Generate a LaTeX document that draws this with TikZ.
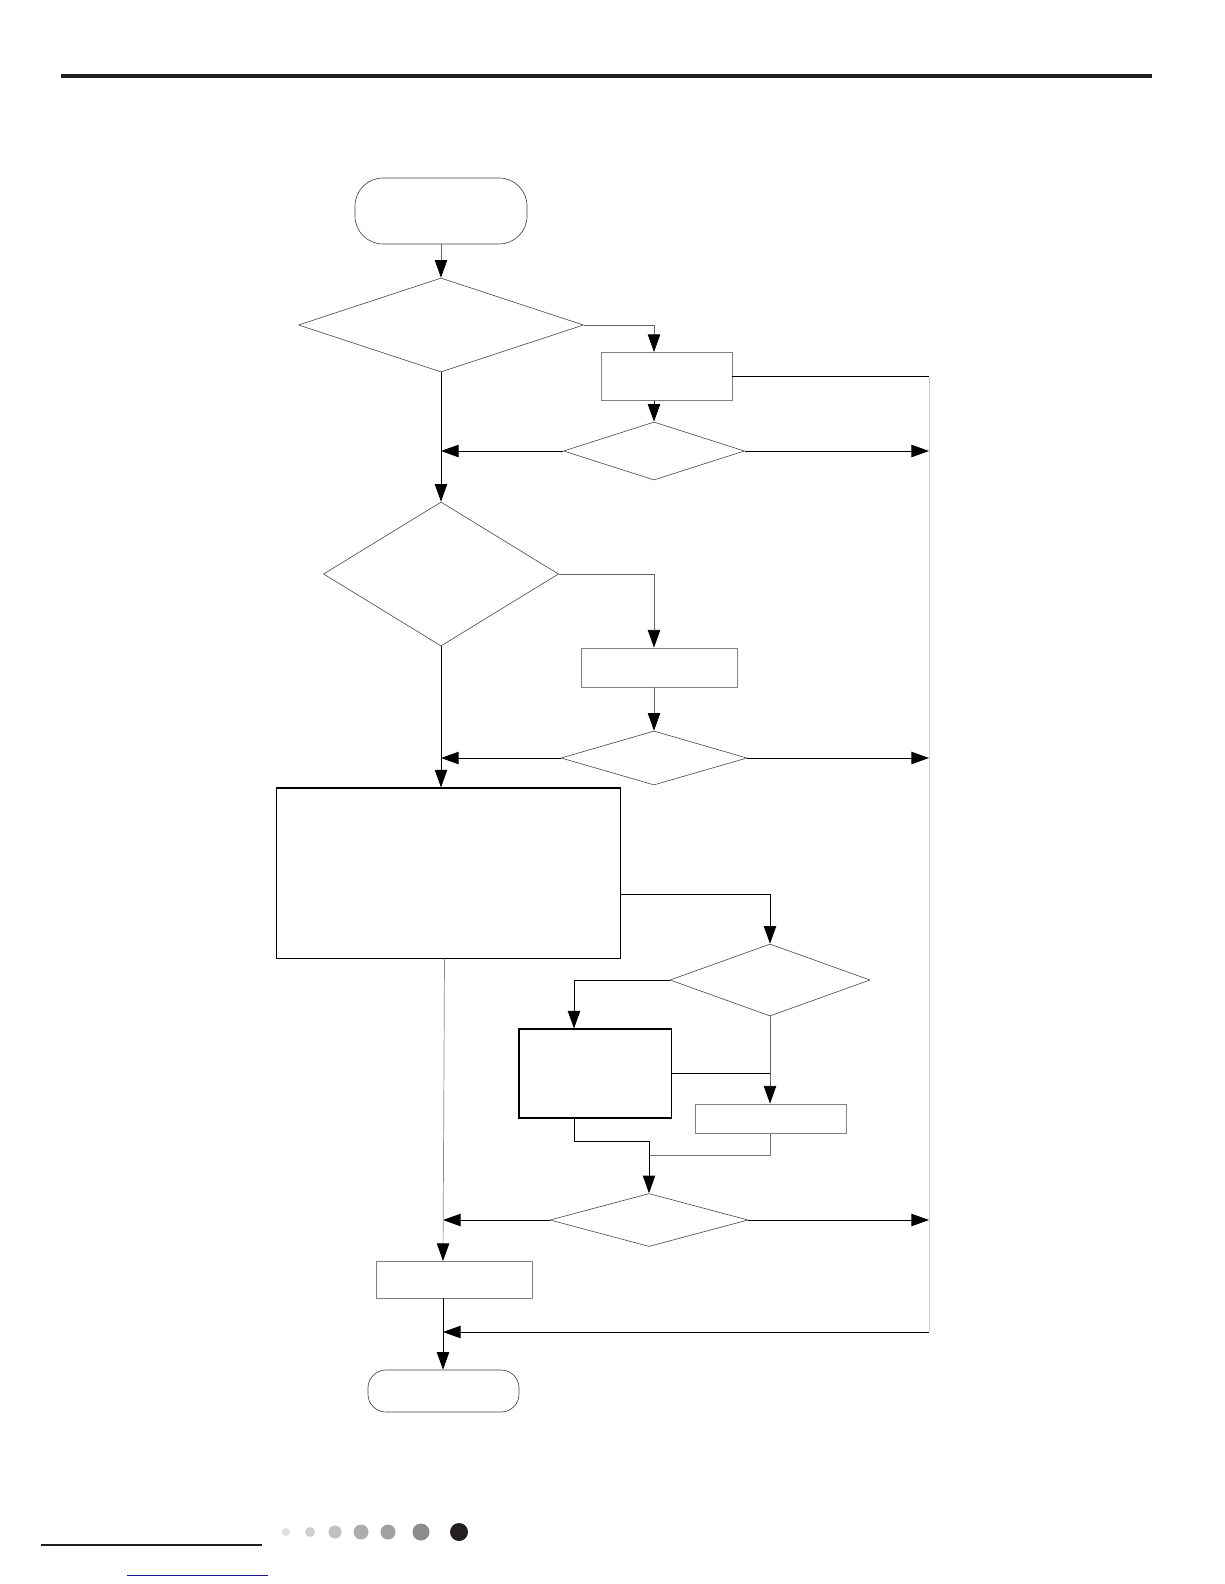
\documentclass[tikz,border=0pt]{standalone}
\usepackage{xcolor}
\usepackage{tikz}
\usetikzlibrary{arrows.meta,positioning,calc,shapes.geometric}
\definecolor{InkBlk}{RGB}{35,31,32}
\definecolor{EdgeGry}{RGB}{130,130,130}
\definecolor{RailGry}{RGB}{205,205,205}
\definecolor{LinkBlue}{RGB}{26,26,150}
\tikzset{
  term/.style={rounded corners=0.7cm,draw=black!75,line width=0.45pt,inner sep=0pt},
  dec/.style={diamond,draw=black!70,line width=0.45pt,inner sep=0pt},
  procg/.style={rectangle,draw=EdgeGry,line width=0.6pt,inner sep=0pt},
  procb/.style={rectangle,draw=black,line width=0.75pt,inner sep=0pt},
  flow/.style={-{Triangle[length=4.4mm,width=3.1mm]},line width=0.65pt,black},
  flowg/.style={-{Triangle[length=4.4mm,width=3.1mm,black]},line width=0.5pt,black!60},
  link/.style={line width=0.65pt,black},
  linkg/.style={line width=0.5pt,black!55},
  rail/.style={line width=0.5pt,RailGry},
}

\begin{document}
\begin{tikzpicture}[x=0.025cm,y=-0.025cm]
  \useasboundingbox (0,0) rectangle (1224,1584);
  \draw[InkBlk,line width=2.2pt] (61,76) -- (1152,76);

  \node[term,minimum width=4.3cm,minimum height=1.65cm] (start) at (441,211) {};
  \node[dec,minimum width=7.125cm,minimum height=2.35cm] (d1) at (441,325) {};
  \node[procg,minimum width=3.275cm,minimum height=1.2cm] (box1) at (666.5,376.5) {};
  \node[dec,minimum width=4.525cm,minimum height=1.45cm] (d2) at (654,451) {};
  \node[dec,minimum width=5.875cm,minimum height=3.6cm] (d3) at (441,574) {};
  \node[procg,minimum width=3.9cm,minimum height=0.975cm] (box2) at (659,667.5) {};
  \node[dec,minimum width=4.65cm,minimum height=1.35cm] (d4) at (654,758) {};
  \node[procb,minimum width=8.575cm,minimum height=4.25cm] (big) at (448.5,873) {};
  \node[dec,minimum width=5cm,minimum height=1.8cm] (d5) at (770,980) {};
  \node[procb,minimum width=3.8cm,minimum height=2.225cm] (box3) at (595,1073.5) {};
  \node[procg,minimum width=3.775cm,minimum height=0.725cm] (box4) at (770.5,1118.5) {};
  \node[dec,minimum width=4.95cm,minimum height=1.325cm] (d6) at (649,1220) {};
  \node[procg,minimum width=3.9cm,minimum height=0.925cm] (box5) at (454,1279.5) {};
  \node[term,rounded corners=0.45cm,minimum width=3.775cm,minimum height=1.05cm] (end) at (443.5,1391) {};

  \coordinate (r1) at (929,376.5);
  \coordinate (r5) at (929,1332);
  \coordinate (c5) at (443,1261);
  \coordinate (m1) at (649,1141);
  \coordinate (m2) at (649,1155.5);

  \draw[flowg] (start) -- (d1);
  \draw[flowg] (d1.east) -| (box1.north -| d2.north);
  \draw[flow] (box1.south -| d2.north) -- (d2.north);
  \draw[link] (box1.east) -- (r1);
  \draw[rail] (r1) -- (r5);
  \draw[flow] (d2.west) -- (d2.west -| d1.south);
  \draw[flow] (d2.east) -- (d2.east -| r1);
  \draw[flow] (d1.south) -- (d3.north);

  \draw[flowg] (d3.east) -| (box2.north -| d4.north);
  \draw[flowg] (box2.south -| d4.north) -- (d4.north);
  \draw[flow] (d4.west) -- (d4.west -| d3.south);
  \draw[flow] (d4.east) -- (d4.east -| r1);
  \draw[flow] (d3.south) -- (d3.south |- big.north);

  \draw[flow] ([yshift=-0.525cm]big.east) -| (d5.north);
  \draw[flow] (d5.west) -| ([xshift=-0.525cm]box3.north);
  \draw[flowg] (d5.south) -- (d5.south |- box4.north);
  \draw[link] (box3.east) -- (box3.east -| d5.south);
  \draw[link] ([xshift=-0.525cm]box3.south) |- (m1);
  \draw[linkg] (box4.south) |- (m2);
  \draw[flow] (m1) -- (d6.north);

  \draw[flow] (d6.west) -- (d6.west -| c5);
  \draw[flow] (d6.east) -- (d6.east -| r1);
  \draw[flowg,black!45] ([xshift=-0.1cm]big.south) -- (c5);
  \draw[flow] (box5.south -| c5) -- (end.north -| c5);
  \draw[flow] (r5) -- (r5 -| c5);

  \draw[InkBlk,line width=1.4pt] (41,1545) -- (262,1545);
  \draw[LinkBlue,line width=0.6pt] (127,1575) -- (268,1575);
  \fill[black!12] (286,1532) circle (4);
  \fill[black!19] (310,1532) circle (5);
  \fill[black!25] (335,1532) circle (6.5);
  \fill[black!32] (361,1532) circle (7.5);
  \fill[black!37] (388,1532) circle (7.5);
  \fill[black!45] (421,1532) circle (8.5);
  \fill[InkBlk] (459,1532) circle (9);
\end{tikzpicture}
\end{document}
